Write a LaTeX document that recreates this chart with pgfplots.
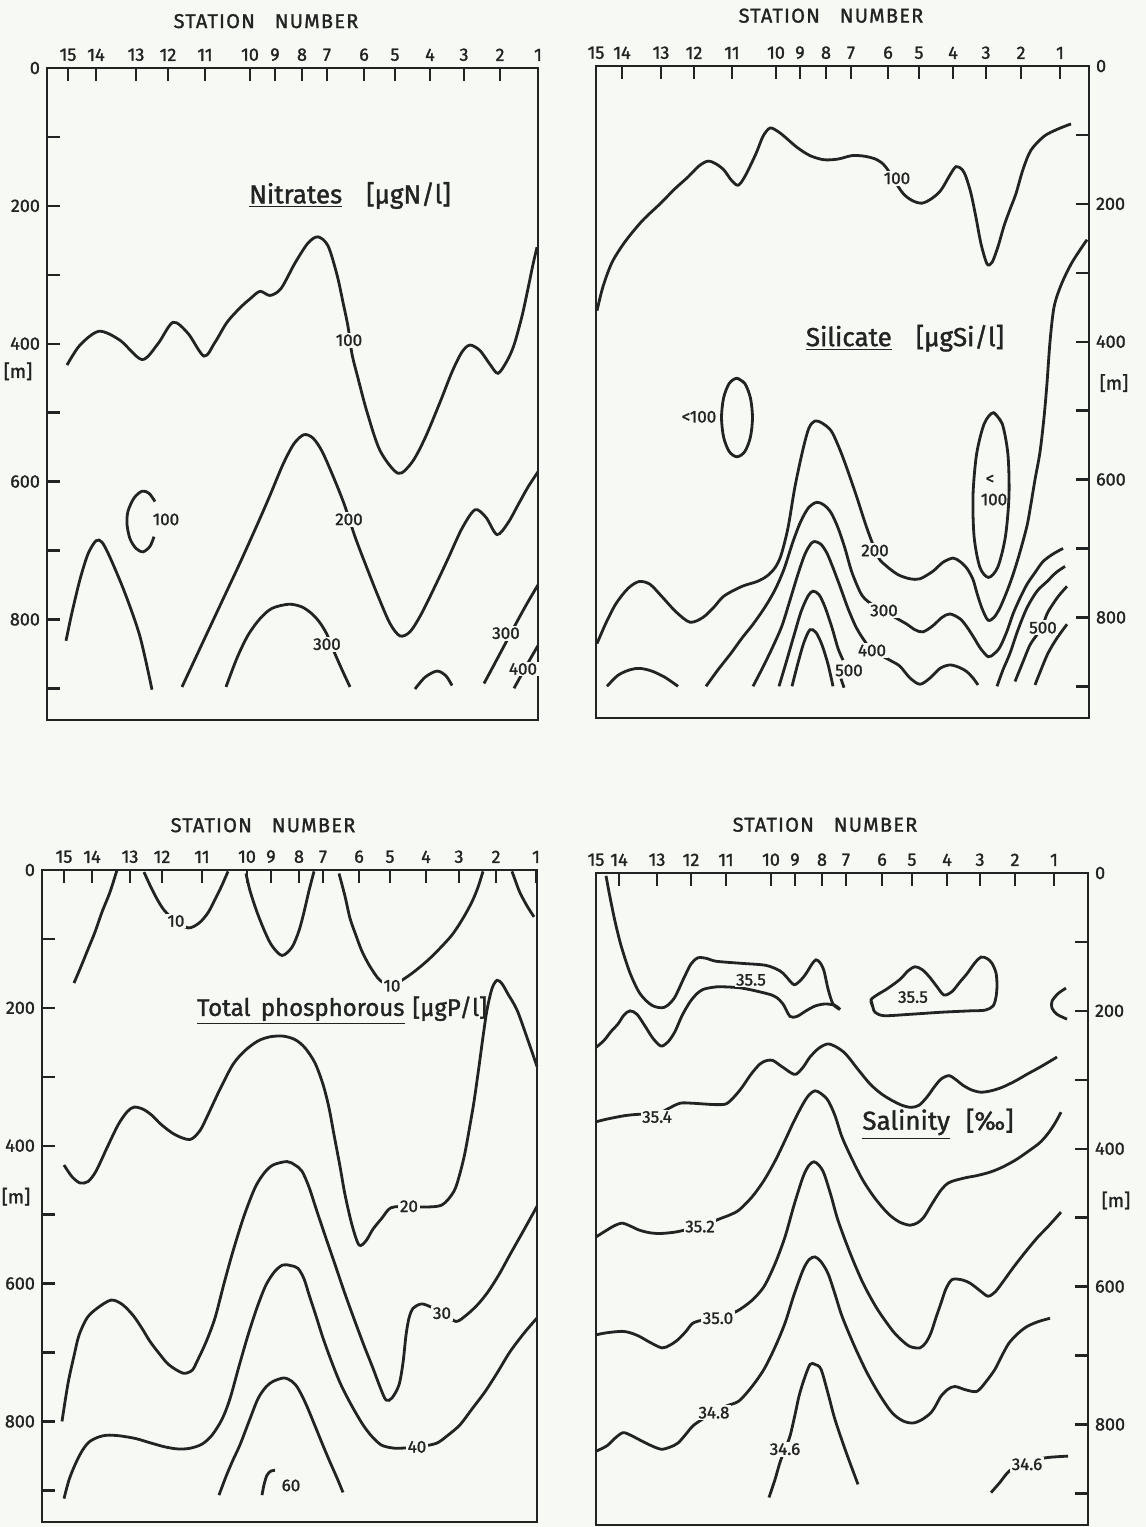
\documentclass[border=0pt]{standalone}
\usepackage{fontspec}
\setmainfont{Fira Sans}[FakeBold=1.4]
\usepackage{pgfplots}
\pgfplotsset{compat=1.18}
\definecolor{bg}{RGB}{246,249,244}
\definecolor{ink}{RGB}{35,35,35}
\pgfplotsset{
  panel/.style={
    scale only axis, clip=false,
    height=326pt,
    y dir=reverse, ymin=0, ymax=946,
    axis line style={ink, line width=1.4pt},
    tick style={ink, line width=1.2pt},
    major tick length=6.5pt, minor tick length=6.5pt,
    tick align=inside,
    xtick pos=right, xticklabel pos=right,
    ytick={0,200,400,600,800}, minor ytick={100,300,500,700,900},
    yticklabels={0,200,400,600,800},
    xticklabels={15,14,13,12,11,10,9,8,7,6,5,4,3,2,1},
    tick label style={font=\fontsize{9}{10}\selectfont, text=ink},
    /pgf/number format/assume math mode=true,
  },
  c/.style={ink, line width=1.4pt, smooth, mark=none},
}
\tikzset{
  lbl/.style={font=\fontsize{8.5}{9}\selectfont, fill=bg, inner sep=0.8pt, text=ink},
  sttl/.style={font=\fontsize{10}{12}\selectfont\addfontfeatures{LetterSpace=6}, text=ink},
  ttl/.style={font=\fontsize{13}{15}\selectfont, text=ink},
  unit/.style={font=\fontsize{9.5}{11}\selectfont, text=ink},
}
\begin{document}
\begin{tikzpicture}
\fill[bg] (0,0) rectangle (573pt,-763.5pt);
\useasboundingbox (0,0) rectangle (573pt,-763.5pt);

% ---------------- Nitrates ----------------
\begin{axis}[panel, at={(23.5pt,-34pt)}, anchor=north west, width=245.5pt,
  xmin=47, xmax=538,
  xtick={68,96,136,168,205,250,275,302,327,364,395,430,464,500,538},
  ytick pos=left, yticklabel pos=left]
\addplot[c] coordinates {(67,431)(80,402)(99,382)(120,395)(142,423)(158,400)(173,369)(188,385)(204,418)(215,398)(227,369)(240,348)(250,335)(260,324)(270,330)(281,320)(295,283)(308,254)(318,245)(328,258)(337,300)(343,340)(348,375)(352,415)(358,450)(367,499)(380,555)(398,588)(412,572)(425,537)(440,485)(452,441)(462,412)(470,402)(480,410)(490,430)(498,443)(507,425)(514,402)(522,360)(528,320)(533,285)(537,260)};
\addplot[c] coordinates {(155,629)(149,617)(142,614)(134,624)(128,643)(127,662)(130,683)(136,697)(143,702)(150,694)(154,680)};
\addplot[c] coordinates {(66,831)(72,790)(80,742)(88,705)(96,686)(102,688)(110,710)(125,762)(140,825)(152,902)};
\addplot[c] coordinates {(182,898)(200,842)(220,780)(240,718)(258,660)(270,620)(283,575)(294,545)(304,532)(313,537)(322,556)(333,592)(344,632)(355,680)(366,722)(378,766)(390,806)(400,824)(410,818)(421,793)(435,752)(448,712)(462,668)(475,641)(486,652)(497,677)(508,660)(518,634)(528,608)(538,586)};
\addplot[c] coordinates {(226,898)(237,856)(248,823)(260,799)(272,784)(289,778)(302,782)(312,792)(320,805)(327,822)(335,850)(342,873)(350,898)};
\addplot[c] coordinates {(415,901)(425,884)(437,875)(446,882)(452,896)};
\addplot[c] coordinates {(484,893)(494,866)(505,836)(516,806)(527,777)(538,750)};
\addplot[c] coordinates {(514,900)(522,879)(530,858)(538,838)};
\node[lbl] at (axis cs:349,395) {100};
\node[lbl] at (axis cs:166,655) {100};
\node[lbl] at (axis cs:349,655) {200};
\node[lbl] at (axis cs:327,836) {300};
\node[lbl] at (axis cs:506,820) {300};
\node[lbl] at (axis cs:523,872) {400};
\node[ttl] at (axis cs:350,185) {\underline{Nitrates}\hspace{12pt}[µgN/l]};
\node[sttl] at (axis cs:266,-68) {STATION\hspace{10pt}NUMBER};
\node[unit] at (axis cs:18,440) {[m]};
\end{axis}

% ---------------- Silicate ----------------
\begin{axis}[panel, at={(298pt,-33pt)}, anchor=north west, width=246.5pt,
  xmin=596, xmax=1089,
  xtick={596,622,661,694,732,776,800,826,851,888,919,953,986,1021,1060},
  ytick pos=right, yticklabel pos=right]
\addplot[c] coordinates {(597,355)(603,320)(612,285)(625,255)(642,225)(660,200)(675,178)(688,161)(699,145)(708,138)(716,142)(724,151)(731,165)(738,173)(745,160)(756,127)(763,102)(770,90)(778,95)(785,103)(797,118)(810,130)(824,136)(838,135)(852,130)(865,131)(877,136)(886,147)(902,183)(912,195)(922,199)(932,192)(941,180)(950,158)(956,146)(962,150)(966,161)(971,185)(976,220)(981,258)(987,287)(992,285)(998,262)(1004,232)(1010,208)(1016,185)(1023,150)(1031,122)(1044,102)(1057,92)(1071,84)};
\addplot[c] coordinates {(737,453)(744.8,460.6)(750.4,481.5)(752.5,510)(750.4,538.5)(744.8,559.4)(737,567)(729.2,559.4)(723.6,538.5)(721.5,510)(723.6,481.5)(729.2,460.6)(737,453)(744.8,460.6)};
\addplot[c] coordinates {(993.5,503)(1002.2,519)(1007.9,563)(1009,623)(1005.4,683)(997.8,727)(988.5,742)(979.8,727)(974.1,683)(973,623)(976.6,563)(984.2,519)(993.5,503)(1002.2,519)};
\addplot[c] coordinates {(597,838)(606,808)(616,780)(628,758)(639,748)(650,752)(662,770)(676,792)(690,807)(703,800)(714,785)(724,769)(742,755)(757,748)(767,740)(775,728)(781,710)(788,670)(795,610)(803,556)(809,525)(815,515)(822,518)(831,529)(838,550)(845,576)(856,622)(867,671)(878,712)(886,725)(898,738)(910,744)(920,744)(933,733)(943,720)(953,714)(960,719)(967,729)(973,745)(977,765)(982,787)(988,804)(994,800)(1000,786)(1007,762)(1013,738)(1020,705)(1027,667)(1031,635)(1035,600)(1040,560)(1044,510)(1047,460)(1050,400)(1054,350)(1061,318)(1072,285)(1087,252)};
\addplot[c] coordinates {(607,900)(618,884)(630,876)(640,874)(652,878)(665,887)(678,900)};
\addplot[c] coordinates {(706,900)(718,876)(731,852)(742,830)(753,810)(765,785)(775,760)(784,730)(793,690)(801,660)(809,640)(817,633)(824,637)(831,648)(838,670)(845,700)(852,735)(862,768)(873,782)(884,790)(895,800)(907,810)(915,818)(923,821)(933,812)(942,800)(950,795)(960,802)(967,814)(975,832)(980,844)(988,857)(994,853)(1000,843)(1007,820)(1013,795)(1020,772)(1027,752)(1035,735)(1043,719)(1053,708)(1063,700)};
\addplot[c] coordinates {(753,900)(763,872)(773,842)(782,812)(790,775)(798,737)(805,708)(811,693)(815,690)(821,694)(827,707)(833,728)(840,755)(848,787)(856,814)(864,833)(872,848)(882,856)(891,863)(900,871)(910,888)(920,897)(930,888)(940,874)(950,869)(960,873)(967,879)(973,888)(978,898)};
\addplot[c] coordinates {(779,900)(786,866)(794,826)(801,792)(808,769)(813,762)(819,767)(825,785)(832,815)(838,845)(843,862)};
\addplot[c] coordinates {(841,889)(844,902)};
\addplot[c] coordinates {(792,900)(798,866)(804,836)(810,818)(816,822)(822,840)(828,868)(833,900)};
\addplot[c] coordinates {(997,900)(1003,876)(1010,852)(1018,818)(1027,786)(1037,762)(1047,748)(1056,735)(1065,726)};
\addplot[c] coordinates {(1015,893)(1022,868)(1030,840)(1037,825)(1043,810)(1048,792)(1058,770)(1067,755)};
\addplot[c] coordinates {(1035,898)(1041,876)(1048,852)(1057,830)(1067,810)};
\node[lbl] at (axis cs:897,163) {100};
\node[lbl] at (axis cs:875,703) {200};
\node[lbl] at (axis cs:884,790) {300};
\node[lbl] at (axis cs:872,848) {400};
\node[lbl] at (axis cs:849,877) {500};
\node[lbl] at (axis cs:1043,815) {500};
\node[lbl, fill=none] at (axis cs:699,509) {<100};
\node[lbl, fill=none] at (axis cs:990,600) {<};
\node[lbl, fill=none] at (axis cs:994,629) {100};
\node[ttl] at (axis cs:905,395) {\underline{Silicate}\hspace{12pt}[µgSi/l]};
\node[sttl] at (axis cs:831,-73) {STATION\hspace{10pt}NUMBER};
\node[unit] at (axis cs:1114,460) {[m]};
\end{axis}

% ---------------- Total phosphorous ----------------
\begin{axis}[panel, at={(21pt,-435pt)}, anchor=north west, width=247.5pt,
  xmin=42, xmax=537,
  xtick={64,92,130,162,202,247,271,299,323,359,390,426,459,496,536},
  ytick pos=left, yticklabel pos=left]
\addplot[c] coordinates {(117,0)(110,32)(102,61)(95,90)(88,115)(81,140)(74,164)};
\addplot[c] coordinates {(144,3)(150,22)(157,42)(164,58)(174,72)(188,84)(199,77)(208,62)(216,40)(222,22)(228,2)};
\addplot[c] coordinates {(246,5)(250,30)(257,61)(265,90)(272,110)(282,124)(292,112)(299,88)(304,61)(309,30)(314,2)};
\addplot[c] coordinates {(339,5)(345,38)(350,70)(356,95)(362,118)(370,140)(380,160)(392,167)(410,152)(430,128)(451,96)(463,70)(472,46)(478,25)(483,2)};
\addplot[c] coordinates {(512,2)(516,18)(520,33)(527,52)(534,68)};
\addplot[c] coordinates {(64,428)(72,445)(80,454)(88,452)(96,437)(107,403)(118,370)(127,351)(134,344)(143,347)(152,356)(161,369)(175,384)(190,391)(200,378)(208,355)(220,318)(233,282)(245,262)(258,248)(270,242)(283,241)(295,246)(305,258)(315,280)(323,311)(329,345)(334,384)(340,430)(345,471)(352,515)(359,544)(366,538)(373,521)(382,505)(391,490)(409,488)(424,489)(442,486)(454,466)(460,440)(465,410)(470,370)(474,336)(479,285)(483,242)(487,203)(492,172)(497,160)(502,165)(508,180)(517,203)(527,243)(537,285)};
\addplot[c] coordinates {(62,800)(68,745)(74,705)(79,675)(87,650)(97,636)(111,624)(122,630)(133,646)(142,665)(150,684)(160,703)(169,718)(183,730)(192,726)(197,713)(206,685)(215,650)(224,600)(233,553)(244,502)(255,461)(264,440)(273,428)(287,423)(295,428)(302,437)(309,460)(316,491)(325,530)(334,568)(345,615)(355,655)(364,690)(373,723)(380,750)(386,769)(392,766)(399,747)(403,715)(406,675)(409,650)(413,636)(420,630)(426,631)(444,643)(456,655)(467,645)(478,630)(488,612)(499,587)(510,558)(524,522)(537,488)};
\addplot[c] coordinates {(64,912)(69,885)(75,863)(82,843)(89,830)(98,823)(107,820)(120,821)(136,825)(150,831)(165,837)(178,840)(190,839)(202,833)(212,820)(222,797)(230,767)(239,720)(248,675)(257,635)(266,602)(275,582)(283,573)(291,574)(298,578)(304,593)(309,616)(316,647)(323,679)(332,715)(341,747)(352,778)(363,805)(372,822)(381,834)(390,838)(399,839)(417,837)(436,832)(448,820)(460,805)(472,782)(485,757)(497,730)(510,699)(524,672)(537,650)};
\addplot[c] coordinates {(219,907)(226,880)(233,856)(240,834)(249,800)(258,767)(266,750)(273,742)(284,737)(292,742)(298,752)(306,775)(316,810)(323,835)(330,859)(337,882)(343,903)};
\addplot[c] coordinates {(262,907)(264,892)(267,878)(271,872)(275,871)};
\node[lbl] at (axis cs:176,74) {10};
\node[lbl] at (axis cs:392,168) {10};
\node[lbl] at (axis cs:409,488) {20};
\node[lbl] at (axis cs:442,643) {30};
\node[lbl] at (axis cs:417,837) {40};
\node[lbl] at (axis cs:291,893) {60};
\node[ttl, font=\fontsize{12}{14}\selectfont] at (axis cs:342,204) {\underline{Total\hspace{2pt} phosphorous}\hspace{4pt}[µgP/l]};
\node[sttl] at (axis cs:263,-65) {STATION\hspace{10pt}NUMBER};
\node[unit] at (axis cs:16,474) {[m]};
\end{axis}

% ---------------- Salinity ----------------
\begin{axis}[panel, at={(298pt,-436.5pt)}, anchor=north west, width=246pt,
  xmin=596, xmax=1088,
  xtick={596,619,657,691,726,771,795,822,846,882,912,947,980,1015,1054},
  ytick pos=right, yticklabel pos=right]
\addplot[c] coordinates {(606,4)(610,35)(615,70)(621,105)(630,145)(640,175)(652,192)(664,195)(674,182)(684,152)(691,132)(698,123)(707,124)(716,128)(741,131)(766,134)(780,142)(786,150)(794,162)(801,155)(806,146)(812,132)(816,126)(820,130)(824,142)(828,168)(833,190)(840,198)};
\addplot[c] coordinates {(596,253)(604,243)(611,230)(618,219)(624,206)(630,200)(637,205)(645,222)(653,240)(661,251)(668,245)(675,230)(682,207)(690,187)(697,175)(703,169)(712,166)(721,165)(742,167)(767,175)(776,180)(783,190)(790,208)(797,208)(806,200)(815,193)(825,190)(835,192)(840,198)};
\addplot[c] coordinates {(873,195)(871,184)(878,176)(885,170)(893,162)(901,153)(908,142)(915,136)(922,140)(929,150)(937,165)(944,177)(952,172)(960,158)(967,146)(975,130)(981,122)(987,124)(992,131)(996,145)(997,163)(996,180)(993,193)(985,199)(970,200)(941,202)(910,205)(884,207)(875,202)(873,195)(871,184)};
\addplot[c] coordinates {(1066,167)(1058,175)(1052,186)(1052,196)(1057,205)(1067,212)};
\addplot[c] coordinates {(596,361)(607,357)(625,352)(640,350)(657,350)(668,342)(680,334)(692,334)(703,335)(715,336)(726,335)(734,325)(742,311)(751,292)(760,277)(767,272)(773,272)(779,278)(785,284)(791,290)(796,292)(803,282)(810,267)(819,254)(828,248)(837,253)(846,263)(858,285)(870,306)(881,320)(892,330)(902,337)(911,340)(919,337)(927,325)(934,311)(941,299)(949,294)(956,300)(963,308)(972,315)(981,318)(991,316)(1002,311)(1015,302)(1027,292)(1042,280)(1057,267)};
\addplot[c] coordinates {(596,528)(607,518)(614,512)(622,508)(630,512)(639,518)(650,522)(661,523)(675,521)(688,517)(700,513)(711,507)(721,501)(730,496)(739,489)(752,470)(764,446)(775,418)(785,388)(794,360)(803,335)(809,322)(815,316)(821,320)(828,330)(835,352)(842,383)(852,415)(863,446)(875,472)(888,494)(899,506)(910,511)(918,507)(924,499)(932,480)(941,460)(948,450)(955,446)(966,442)(977,439)(990,434)(1002,427)(1016,416)(1030,402)(1040,391)(1048,378)(1055,363)(1061,347)};
\addplot[c] coordinates {(596,670)(607,667)(622,665)(630,667)(639,672)(650,681)(662,689)(670,685)(678,677)(686,665)(693,653)(705,648)(718,646)(729,641)(739,634)(752,620)(764,600)(775,567)(785,528)(794,482)(803,441)(809,424)(814,419)(819,424)(824,436)(831,468)(838,504)(850,551)(863,595)(877,632)(892,663)(901,677)(910,687)(920,689)(926,681)(931,667)(936,645)(941,624)(946,603)(952,590)(961,590)(970,595)(980,606)(988,614)(995,608)(1002,595)(1014,571)(1027,547)(1038,528)(1048,513)(1061,492)};
\addplot[c] coordinates {(596,839)(607,831)(615,820)(623,812)(631,816)(639,822)(650,830)(661,836)(670,833)(678,827)(686,814)(693,802)(703,792)(714,783)(727,773)(739,766)(752,745)(764,720)(775,688)(785,653)(794,612)(803,576)(809,561)(815,557)(821,564)(828,581)(835,611)(842,643)(854,685)(867,725)(880,758)(892,783)(903,795)(913,798)(922,793)(931,783)(936,772)(941,759)(948,749)(955,745)(966,750)(977,752)(986,738)(995,720)(1002,700)(1009,682)(1018,668)(1027,658)(1038,651)(1050,646)};
\addplot[c] coordinates {(769,906)(775,880)(780,855)(785,836)(790,817)(795,786)(799,759)(804,735)(810,713)(815,713)(821,720)(828,755)(835,793)(846,840)(858,887)};
\addplot[c] coordinates {(991,899)(1000,884)(1009,868)(1020,860)(1034,852)(1048,848)(1068,846)};
\node[lbl] at (axis cs:751,155) {35.5};
\node[lbl] at (axis cs:913,180) {35.5};
\node[lbl] at (axis cs:657,354) {35.4};
\node[lbl] at (axis cs:700,513) {35.2};
\node[lbl] at (axis cs:718,646) {35.0};
\node[lbl] at (axis cs:714,783) {34.8};
\node[lbl] at (axis cs:785,836) {34.6};
\node[lbl] at (axis cs:1027,858) {34.6};
\node[ttl] at (axis cs:938,364) {\underline{Salinity}\hspace{8pt}[‰]};
\node[sttl] at (axis cs:825,-70) {STATION\hspace{10pt}NUMBER};
\node[unit] at (axis cs:1116,475) {[m]};
\end{axis}
\end{tikzpicture}
\end{document}
